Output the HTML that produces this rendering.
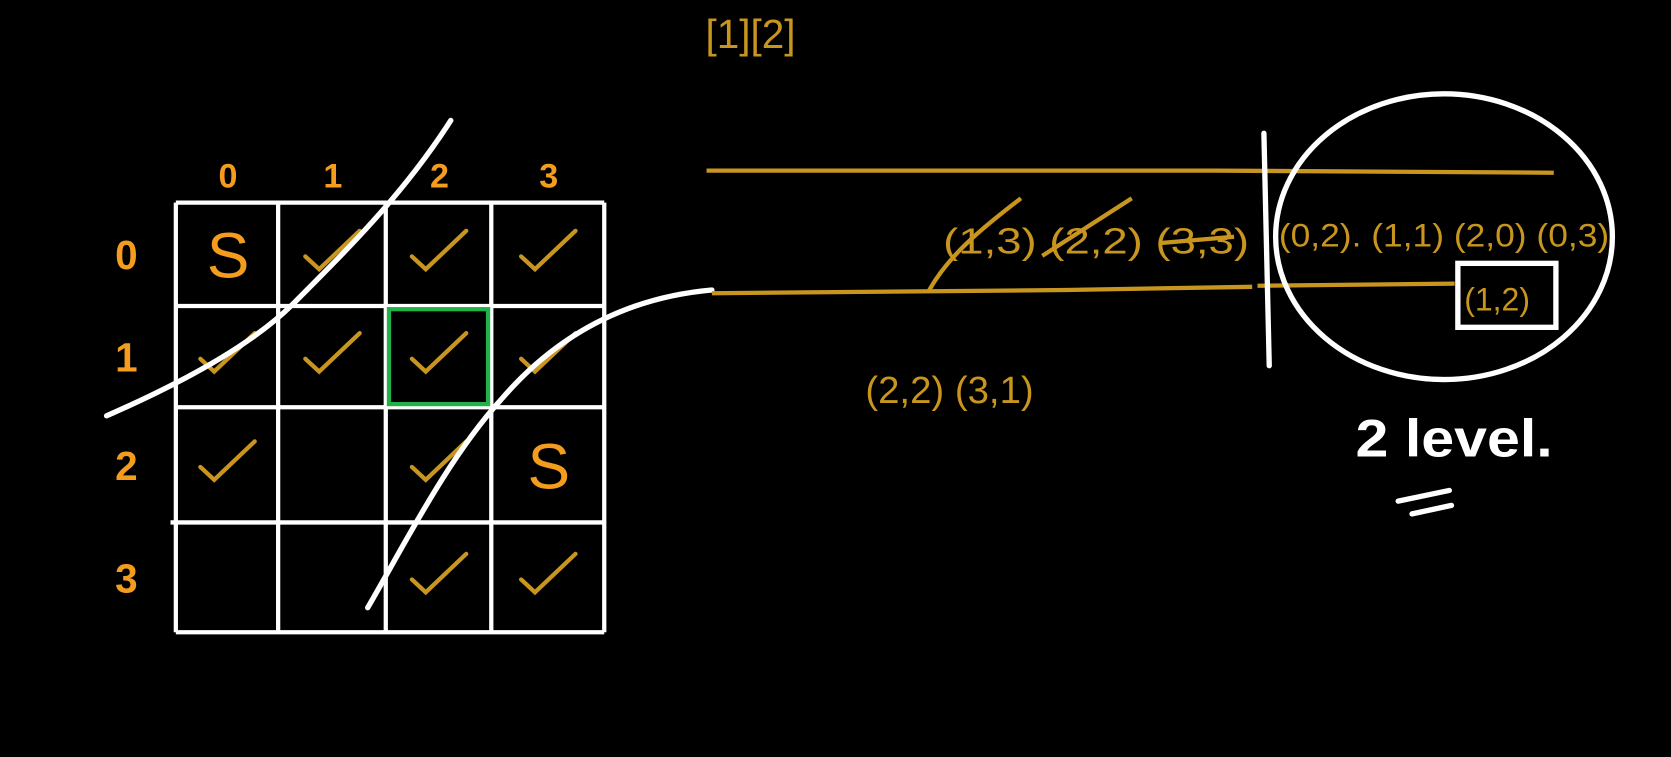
<!DOCTYPE html>
<html><head><meta charset="utf-8"><style>
html,body{margin:0;padding:0;background:#000;width:1671px;height:757px;overflow:hidden}
svg{display:block}
text{font-family:"Liberation Sans",sans-serif}
</style></head><body>
<svg id="board" width="1671" height="757" viewBox="0 0 1568 710" preserveAspectRatio="none" xmlns="http://www.w3.org/2000/svg">
<rect width="1568" height="710" fill="#000"/>
<g id="grid"></g>
<path d="M100 390 C180 355 240 320 275 285 C330 230 380 180 423 113" stroke="#fff" stroke-width="5" fill="none" stroke-linecap="round"/>
<path d="M345 570 C380 510 420 430 470 375 C530 305 600 278 668 272" stroke="#fff" stroke-width="5" fill="none" stroke-linecap="round"/>
<path d="M663 160 L1140 160 L1458 162" stroke="#c8961e" stroke-width="4" fill="none"/>
<path d="M668 275 L1000 272 L1175 269 M1180 268 L1365 266" stroke="#c8961e" stroke-width="4" fill="none"/>
<path d="M872 272 C890 240 920 215 958 186" stroke="#c8961e" stroke-width="4" fill="none"/>
<line x1="1186" y1="125" x2="1191" y2="343" stroke="#fff" stroke-width="5" stroke-linecap="round"/>
<ellipse cx="1355" cy="222" rx="158" ry="134" stroke="#fff" stroke-width="5" fill="none"/>
<text x="662" y="45" fill="#c8961e" font-size="38">[1][2]</text>
<text x="885" y="238" fill="#c8961e" font-size="34" textLength="287" lengthAdjust="spacingAndGlyphs">(1,3) (2,2) (3,3)</text>
<path d="M1062 186 L978 240 M1088 228 L1158 222" stroke="#c8961e" stroke-width="4" fill="none"/>
<text x="1200" y="231" fill="#c8961e" font-size="30" textLength="310" lengthAdjust="spacingAndGlyphs">(0,2). (1,1) (2,0) (0,3)</text>
<rect x="1368" y="247" width="92" height="60" stroke="#fff" stroke-width="5" fill="none"/>
<text x="1374" y="291" fill="#c8961e" font-size="30">(1,2)</text>
<text x="812" y="378" fill="#c8961e" font-size="36">(2,2)  (3,1)</text>
<text x="1272" y="428" fill="#fff" font-size="50" font-weight="bold" textLength="185" lengthAdjust="spacingAndGlyphs">2 level.</text>
<path d="M1312 470 L1360 460 M1325 482 L1362 474" stroke="#fff" stroke-width="5" stroke-linecap="round"/>
</svg>
<script>
const colLabels=["0","1","2","3"];
const rowLabels=["0","1","2","3"];
const checkCells=[[0,1],[0,2],[0,3],[1,0],[1,1],[1,2],[1,3],[2,0],[2,2],[3,2],[3,3]];
const sCells=[[0,0],[2,3]];
const highlightCell=[1,2];
const xs=[165,261,362,461,567], ys=[190,287,382,490,593];
const NS="http://www.w3.org/2000/svg";
const g=document.getElementById('grid');
function mk(tag,attrs){const e=document.createElementNS(NS,tag);for(const k in attrs)e.setAttribute(k,attrs[k]);g.appendChild(e);return e;}
xs.forEach((x,i)=>{const l=mk('line',{x1:x,y1:ys[0],x2:x,y2:ys[4],stroke:'#fff','stroke-width':4});

});
ys.forEach((y,i)=>{const l=mk('line',{x1:i==3?160:xs[0],y1:y,x2:xs[4],y2:y,stroke:'#fff','stroke-width':4});

});
const cx=c=>(xs[c]+xs[c+1])/2, cy=r=>(ys[r]+ys[r+1])/2;
colLabels.forEach((t,i)=>{const e=mk('text',{x:cx(i)-8,y:176,fill:'#f39c1e','font-size':32,'font-weight':'bold'});e.textContent=t;

});
rowLabels.forEach((t,i)=>{const e=mk('text',{x:108,y:cy(i)+14,fill:'#f39c1e','font-size':38,'font-weight':'bold'});e.textContent=t;

});
const hl=mk('rect',{x:xs[highlightCell[1]]+3,y:ys[highlightCell[0]]+3,width:xs[highlightCell[1]+1]-xs[highlightCell[1]]-6,height:ys[highlightCell[0]+1]-ys[highlightCell[0]]-6,stroke:'#22b04a','stroke-width':4,fill:'none'});


checkCells.forEach(([r,c])=>{const x=cx(c),y=cy(r);
const p=mk('path',{d:`M${x-25} ${y+2} L${x-12} ${y+14} L${x+26} ${y-22}`,stroke:'#c8961e','stroke-width':4,fill:'none','stroke-linecap':'round'});

});
sCells.forEach(([r,c])=>{const e=mk('text',{x:cx(c)-19,y:cy(r)+22,fill:'#f39c1e','font-size':60});e.textContent='S';

});
</script>
</body></html>
